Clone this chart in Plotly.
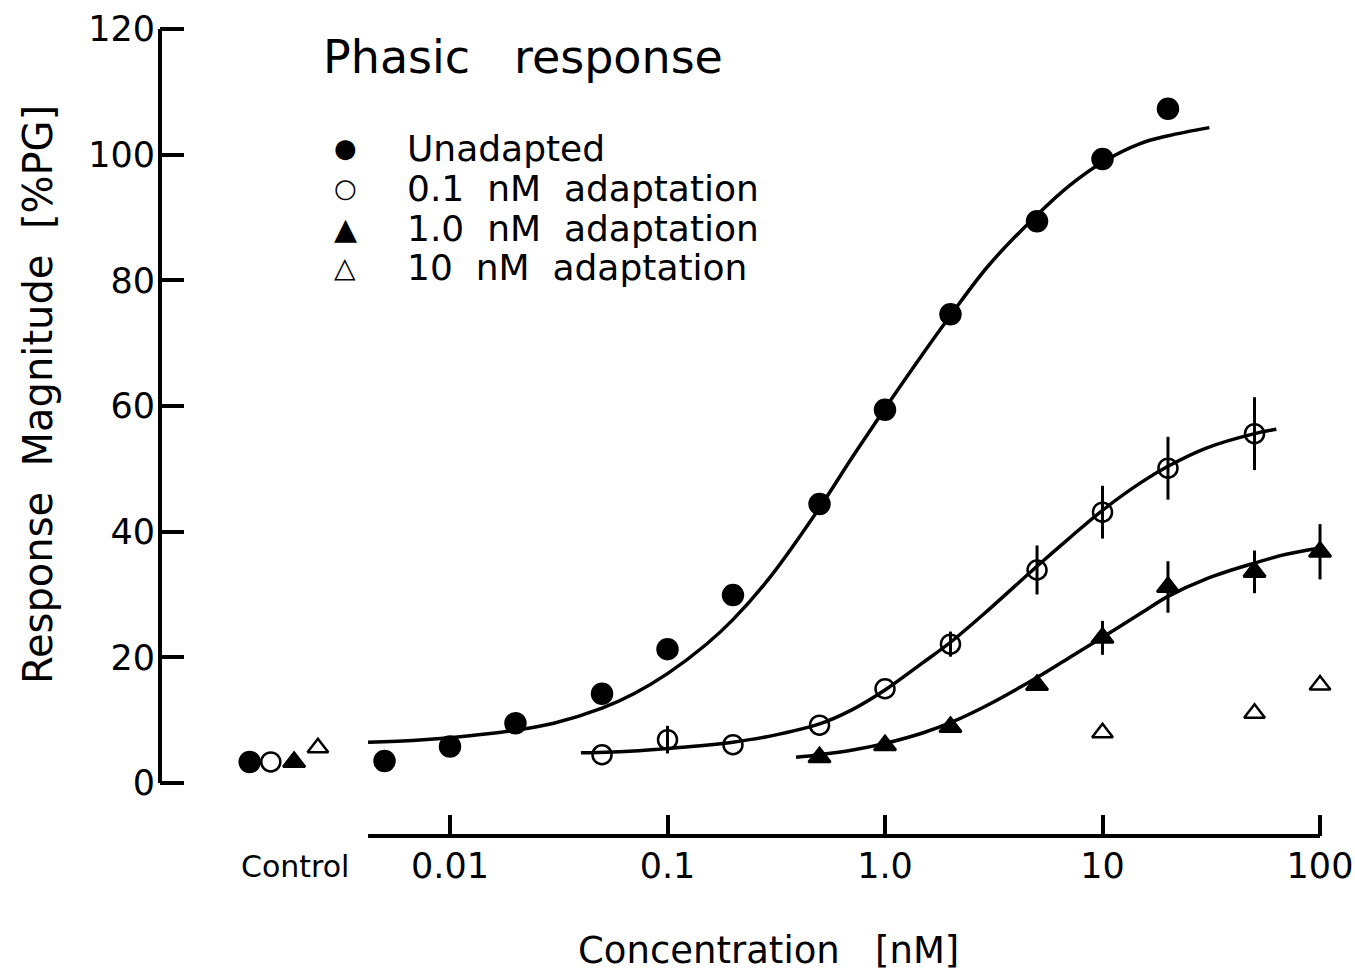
import math
import plotly.graph_objects as go

# ---------------------------------------------------------------- data
# Measured responses (% PG) at each test concentration (nM)
unadapted_conc = [0.005, 0.01, 0.02, 0.05, 0.1, 0.2, 0.5, 1.0, 2.0, 5.0, 10, 20]
unadapted_resp = [3.5, 5.8, 9.5, 14.2, 21.3, 29.9, 44.4, 59.4, 74.6, 89.4, 99.3, 107.3]

adapt01_conc = [0.05, 0.1, 0.2, 0.5, 1.0, 2.0, 5.0, 10, 20, 50]
adapt01_resp = [4.5, 6.9, 6.1, 9.2, 15.0, 22.1, 33.9, 43.1, 50.1, 55.6]
adapt01_err = [0, 2.2, 0, 0, 0, 2.0, 3.9, 4.2, 5.0, 5.8]

adapt1_conc = [0.5, 1.0, 2.0, 5.0, 10, 20, 50, 100]
adapt1_resp = [4.1, 6.0, 8.9, 15.6, 23.1, 31.2, 33.6, 36.8]
adapt1_err = [0, 0, 0, 0, 2.7, 4.1, 3.4, 4.4]

adapt10_conc = [10, 50, 100]
adapt10_resp = [8.0, 11.1, 15.6]

# Control (no stimulus) responses, one per series
control_resp = [3.35, 3.35, 3.35, 5.6]
# where each control symbol sits left of the concentration scale
control_pos = [0.00120, 0.00150, 0.00192, 0.00247]

# Fitted dose-response curves (concentration, response)
fit_unadapted_x = [0.0042, 0.007, 0.01, 0.02, 0.03, 0.05, 0.07, 0.1, 0.15, 0.2, 0.3,
                   0.5, 0.7, 1.0, 1.5, 2.0, 3.0, 5.0, 7.0, 10, 15, 20, 31]
fit_unadapted_y = [6.5, 6.8, 7.2, 8.4, 9.5, 11.9, 14.2, 17.4, 22.0, 26.0, 33.0,
                   43.8, 51.6, 59.6, 68.4, 74.4, 82.4, 90.4, 95.0, 98.8, 101.8, 103.0, 104.3]

fit_adapt01_x = [0.04, 0.07, 0.1, 0.15, 0.2, 0.3, 0.5, 0.7, 1.0, 1.5, 2.0, 3.0, 5.0, 7.0,
                 10, 15, 20, 30, 50, 63]
fit_adapt01_y = [4.8, 5.1, 5.5, 6.0, 6.5, 7.5, 9.4, 11.6, 14.8, 19.2, 22.4, 27.6, 34.5, 38.9,
                 43.4, 47.8, 50.4, 53.3, 55.6, 56.3]

fit_adapt1_x = [0.39, 0.5, 0.7, 1.0, 1.5, 2.0, 3.0, 5.0, 7.0, 10, 15, 20, 30, 50, 70, 100]
fit_adapt1_y = [4.1, 4.5, 5.2, 6.3, 8.0, 9.6, 12.5, 16.8, 19.9, 23.2, 27.0, 29.7, 32.5, 35.0, 36.4, 37.4]

x_tickvals = [0.01, 0.1, 1.0, 10, 100]
x_ticktext = ["0.01", "0.1", "1.0", "10", "100"]
y_tickvals = [0, 20, 40, 60, 80, 100, 120]

legend_labels = ["Unadapted", "0.1  nM  adaptation", "1.0  nM  adaptation", "10  nM  adaptation"]
legend_glyphs = ["\u25cf", "\u25cb", "\u25b2", "\u25b3"]

# ---------------------------------------------------------------- layout geometry
W, H = 1355, 980
M_L, M_R, M_T, M_B = 160, 10, 20, 144
X_RANGE = [-3.3333, 2.1149]      # log10 nM
Y_RANGE = [-8.435, 121.43]
X_LINE_START = 0.0042             # left end of the concentration axis line

FONT = "DejaVu Sans"
INK = "black"


def px_to_paper_x(px):
    return (px - M_L) / (W - M_L - M_R)


def px_to_paper_y(py):
    return (H - M_B - py) / (H - M_T - M_B)


def conc_to_paper_x(c):
    return (math.log10(c) - X_RANGE[0]) / (X_RANGE[1] - X_RANGE[0])


fig = go.Figure()

# fitted curves underneath the symbols
for fx, fy in [(fit_unadapted_x, fit_unadapted_y),
               (fit_adapt01_x, fit_adapt01_y),
               (fit_adapt1_x, fit_adapt1_y)]:
    fig.add_trace(go.Scatter(x=fx, y=fy, mode="lines", line=dict(color=INK, width=3.5, shape="spline"),
                             showlegend=False, hoverinfo="skip"))

# measured points (control first)
series = [
    (unadapted_conc, unadapted_resp, None, "circle", 20, 0),
    (adapt01_conc, adapt01_resp, adapt01_err, "circle-open", 19, 1),
    (adapt1_conc, adapt1_resp, adapt1_err, "triangle-up", 19, 2),
    (adapt10_conc, adapt10_resp, None, "triangle-up-open", 18, 3),
]
for conc, resp, err, sym, size, i in series:
    xs = [control_pos[i]] + conc
    ys = [control_resp[i]] + resp
    tr = dict(x=xs, y=ys, mode="markers", name=legend_labels[i], showlegend=False,
              marker=dict(symbol=sym, size=size, color=INK, line=dict(color=INK, width=2.5)))
    if err is not None:
        tr["error_y"] = dict(type="data", array=[0] + err, visible=True,
                             color=INK, thickness=3, width=0)
    fig.add_trace(go.Scatter(**tr))

annotations = []
# title
annotations.append(dict(text="Phasic   response", xref="paper", yref="paper",
                        x=px_to_paper_x(321), y=px_to_paper_y(57), xanchor="left", yanchor="middle",
                        showarrow=False, font=dict(family=FONT, size=46, color=INK)))
# key
row_y = [145, 185, 225, 264]
for glyph, label, ry, gsize in zip(legend_glyphs, legend_labels, row_y, [26, 26, 30, 28]):
    annotations.append(dict(text=glyph, xref="paper", yref="paper",
                            x=px_to_paper_x(345), y=px_to_paper_y(ry + 3), xanchor="center", yanchor="middle",
                            showarrow=False, font=dict(family=FONT, size=gsize, color=INK)))
    annotations.append(dict(text=label, xref="paper", yref="paper",
                            x=px_to_paper_x(405), y=px_to_paper_y(ry + 3), xanchor="left", yanchor="middle",
                            showarrow=False, font=dict(family=FONT, size=36, color=INK)))
# control label beneath the control symbols
annotations.append(dict(text="Control", xref="paper", yref="paper",
                        x=px_to_paper_x(295), y=px_to_paper_y(866), xanchor="center", yanchor="middle",
                        showarrow=False, font=dict(family=FONT, size=30, color=INK)))
# axis titles
annotations.append(dict(text="Concentration   [nM]", xref="paper", yref="paper",
                        x=px_to_paper_x(768), y=px_to_paper_y(950), xanchor="center", yanchor="middle",
                        showarrow=False, font=dict(family=FONT, size=37, color=INK)))
annotations.append(dict(text="Response  Magnitude  [%PG]", xref="paper", yref="paper",
                        x=px_to_paper_x(38), y=px_to_paper_y(395), xanchor="center", yanchor="middle",
                        textangle=-90, showarrow=False, font=dict(family=FONT, size=40, color=INK)))

shapes = [
    # response axis, spanning 0..120 only
    dict(type="line", xref="paper", yref="y", x0=0, x1=0, y0=0, y1=120,
         line=dict(color=INK, width=4)),
    # concentration axis line
    dict(type="line", xref="paper", yref="paper", x0=conc_to_paper_x(X_LINE_START), x1=conc_to_paper_x(100),
         y0=0, y1=0, line=dict(color=INK, width=4)),
]

fig.update_layout(
    width=W, height=H,
    margin=dict(l=M_L, r=M_R, t=M_T, b=M_B, autoexpand=False),
    paper_bgcolor="white", plot_bgcolor="white",
    showlegend=False,
    annotations=annotations,
    shapes=shapes,
    xaxis=dict(type="log", range=X_RANGE, showgrid=False, zeroline=False, showline=False,
               automargin=False,
               tickmode="array", tickvals=x_tickvals, ticktext=x_ticktext,
               ticks="inside", ticklen=21, tickwidth=4, tickcolor=INK,
               tickfont=dict(family=FONT, size=35, color=INK), ticklabelstandoff=6),
    yaxis=dict(range=Y_RANGE, showgrid=False, zeroline=False, showline=False,
               automargin=False,
               tickmode="array", tickvals=y_tickvals,
               ticks="inside", ticklen=24, tickwidth=4, tickcolor=INK,
               tickfont=dict(family=FONT, size=35, color=INK), ticklabelstandoff=4),
)

fig.write_html("out.html")
